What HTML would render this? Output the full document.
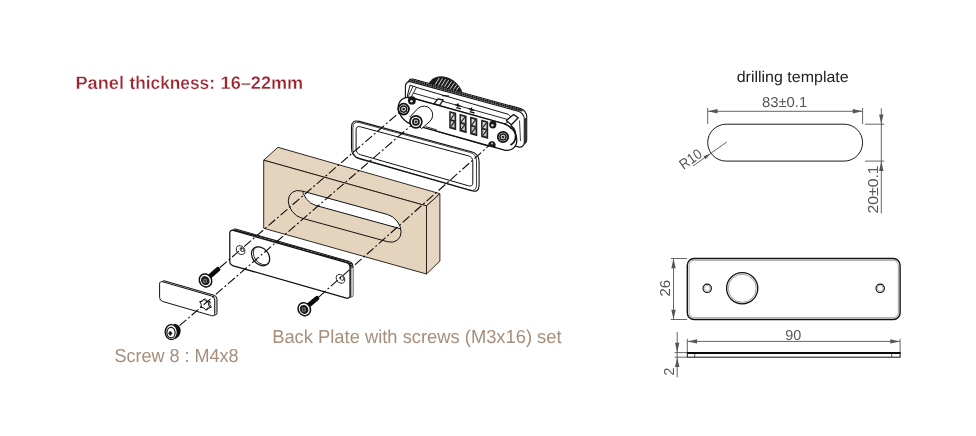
<!DOCTYPE html>
<html>
<head>
<meta charset="utf-8">
<title>Panel thickness</title>
<style>
html,body{margin:0;padding:0;background:#fff;}
body{width:976px;height:436px;overflow:hidden;font-family:"Liberation Sans",sans-serif;}
svg{display:block;position:absolute;left:0;top:0;will-change:transform;}
text{text-rendering:geometricPrecision;}
.t-red{fill:#9b2631;stroke:#fff;stroke-width:0.3px;font-weight:bold;font-family:"Liberation Sans",sans-serif;}
.t-tan{fill:#a68e7c;font-family:"Liberation Sans",sans-serif;}
.t-dim{fill:#555;font-family:"Liberation Sans",sans-serif;}
.t-blk{fill:#222;font-family:"Liberation Sans",sans-serif;}
.ol{fill:none;stroke:#111;stroke-width:1;}
.cl{fill:none;stroke:#0c0c0c;stroke-width:1.1;stroke-dasharray:9 2.5 2 2.5;}
.dim{fill:none;stroke:#555;stroke-width:0.9;}
.arr{fill:#555;stroke:none;}
</style>
</head>
<body>
<svg width="976" height="436" viewBox="0 0 976 436">
<rect width="976" height="436" fill="#fff"/>

<!-- ===== TEXT ===== -->
<text id="t1" class="t-red" y="89.3" font-size="18.2"><tspan x="75.4" textLength="48.6" lengthAdjust="spacingAndGlyphs">Panel</tspan> <tspan x="129.4" textLength="85.6" lengthAdjust="spacingAndGlyphs">thickness:</tspan> <tspan x="220.6" textLength="82.6" lengthAdjust="spacingAndGlyphs">16–22mm</tspan></text>
<text id="t2" class="t-tan" x="114.4" y="362" font-size="18.8" textLength="124.2" lengthAdjust="spacingAndGlyphs">Screw 8 : M4x8</text>
<text id="t3" class="t-tan" x="272.2" y="343.3" font-size="18.8" textLength="289.4" lengthAdjust="spacingAndGlyphs">Back Plate with screws (M3x16) set</text>

<!-- ===== PANEL ===== -->
<g id="panel">
  <polygon points="263.7,160.2 277.9,147.3 439.9,193.7 426.5,205.9" fill="#e5d5bf" stroke="#1a1410" stroke-width="0.9" stroke-linejoin="round"/>
  <polygon points="426.5,205.9 439.9,193.7 439.9,261 426.5,274" fill="#e6d6c1" stroke="#1a1410" stroke-width="0.9" stroke-linejoin="round"/>
  <polygon points="263.7,160.2 426.5,205.9 426.5,274 263.7,228.3" fill="#e4d3bd" stroke="#1a1410" stroke-width="0.9" stroke-linejoin="round"/>
  <!-- slot -->
  <clipPath id="slotclip"><rect x="-13.6" y="-13.6" width="112.8" height="27.2" rx="13.6" transform="matrix(1 0.2745 0 1 301.9 204.6)"/></clipPath>
  <rect x="-13.6" y="-13.6" width="112.8" height="27.2" rx="13.6" transform="matrix(1 0.2745 0 1 301.9 204.6)" fill="#e4d3bd" stroke="none"/>
  <g clip-path="url(#slotclip)">
    <rect x="-13.6" y="-13.6" width="112.8" height="27.2" rx="13.6" transform="matrix(1 0.2745 0 1 315.9 191.9)" fill="#fff" stroke="#111" stroke-width="1" vector-effect="non-scaling-stroke"/>
  </g>
  <rect x="-13.6" y="-13.6" width="112.8" height="27.2" rx="13.6" transform="matrix(1 0.2745 0 1 301.9 204.6)" fill="none" stroke="#111" stroke-width="1" vector-effect="non-scaling-stroke"/>
</g>

<!-- ===== GASKET ===== -->
<g id="gasket">
  <path d="M351.5 127.3Q351.5 119.3 359.2 121.4L471.4 151.7Q479.1 153.8 479.1 161.8L479.1 185.0Q479.1 193.0 471.4 190.8L359.2 158.6Q351.5 156.4 351.5 148.4z" fill="#fff" stroke="#111" stroke-width="1.1"/>
  <path d="M352.9 127.6Q352.9 120.8 359.5 122.6L469.9 152.4Q476.5 154.2 476.5 161.0L476.5 185.1Q476.5 191.9 470.0 190.0L359.4 158.3Q352.9 156.4 352.9 149.6z" fill="none" stroke="#111" stroke-width="0.8"/>
  <path d="M356.1 130.1Q356.1 125.6 360.4 126.8L468.5 155.9Q472.8 157.1 472.8 161.6L472.8 182.5Q472.8 187.0 468.5 185.8L360.4 154.7Q356.1 153.5 356.1 149.0z" fill="#fff" stroke="#111" stroke-width="1"/>
</g>

<!-- ===== BACK PLATE ===== -->
<g id="backplate" transform="translate(0 0.8)">
  <defs>
    <pattern id="hatch" width="2.2" height="2.2" patternUnits="userSpaceOnUse" patternTransform="rotate(55)">
      <rect width="2.2" height="2.2" fill="#8a8a8a"/><rect width="1.3" height="2.2" fill="#111"/>
    </pattern>
    <linearGradient id="edgeg" x1="0" x2="1" y1="0" y2="0"><stop offset="0" stop-color="#777"/><stop offset="1" stop-color="#eee"/></linearGradient>
  </defs>
  <!-- thickness (back copy) -->
  <g transform="matrix(1 0.285 0 1 232.8 227.4)">
    <rect x="0" y="0" width="120.2" height="35.4" rx="3.5" fill="url(#hatch)" stroke="#111" stroke-width="0.9" vector-effect="non-scaling-stroke"/>
  </g>
  <path d="M350.3 266.5L352.9 265.2V294.6L350.3 296.6z" fill="url(#edgeg)" stroke="none"/>
  <g transform="matrix(1 0.285 0 1 229.8 228.6)">
    <rect x="0" y="0" width="120.2" height="35.4" rx="3.5" fill="#fff" stroke="#111" stroke-width="1.25" vector-effect="non-scaling-stroke"/>
  </g>
  <!-- big hole -->
  <clipPath id="bhclip"><circle r="9.1" transform="matrix(1 0.285 0 1 260.6 255.5)"/></clipPath>
  <circle r="9.1" transform="matrix(1 0.285 0 1 260.6 255.5)" fill="#fff" stroke="#111" stroke-width="1.2" vector-effect="non-scaling-stroke"/>
  <g clip-path="url(#bhclip)"><circle r="9.1" transform="matrix(1 0.285 0 1 262.4 254.6)" fill="none" stroke="#111" stroke-width="0.9" vector-effect="non-scaling-stroke"/></g>
  <!-- small holes -->
  <circle r="4.3" transform="matrix(1 0.285 0 1 240.6 249.3)" fill="#fff" stroke="#111" stroke-width="0.9" vector-effect="non-scaling-stroke"/>
  <circle r="1.9" transform="matrix(1 0.285 0 1 242 248.8)" fill="#fff" stroke="#111" stroke-width="0.8" vector-effect="non-scaling-stroke"/>
  <circle r="4.3" transform="matrix(1 0.285 0 1 340.5 278)" fill="#fff" stroke="#111" stroke-width="0.9" vector-effect="non-scaling-stroke"/>
  <circle r="1.9" transform="matrix(1 0.285 0 1 341.9 277.6)" fill="#fff" stroke="#111" stroke-width="0.8" vector-effect="non-scaling-stroke"/>
</g>

<!-- ===== SMALL PLATE ===== -->
<g id="smallplate">
  <g transform="matrix(1 0.29 0 1 161.9 280.1)">
    <rect x="0" y="0" width="55.1" height="19.7" rx="3.2" fill="#ddd" stroke="#111" stroke-width="1" vector-effect="non-scaling-stroke"/>
  </g>
  <g transform="matrix(1 0.29 0 1 159.6 280.9)">
    <rect x="0" y="0" width="55.1" height="19.7" rx="3.2" fill="#fff" stroke="#111" stroke-width="1" vector-effect="non-scaling-stroke"/>
  </g>
  <!-- star hole -->
  <path d="M211.4 307.3L208.7 307.6L207.4 309.8L205.1 307.4L202.2 306.7L202.6 304.0L201.0 301.1L203.7 300.8L205.0 298.6L207.3 301.0L210.2 301.7L209.8 304.4z" fill="#fff" stroke="#111" stroke-width="0.9" stroke-linejoin="round"/>
  <path d="M210.1 307.8L207.4 308.1L206.1 310.3L203.8 307.9L200.9 307.2L201.3 304.5L199.7 301.6L202.4 301.3L203.7 299.1L206.0 301.5L208.9 302.2L208.5 304.9z" fill="#fff" stroke="#111" stroke-width="1" stroke-linejoin="round"/>
</g>

<!-- ===== SCREWS ===== -->
<g id="screws">
  <!-- upper-left M3x16 -->
  <path d="M208.5 277.6L218 269.2" stroke="#0a0a0a" stroke-width="4.7" stroke-linecap="round" fill="none"/>
  <ellipse cx="205.5" cy="280.4" rx="6" ry="6.7" fill="#fff" stroke="#111" stroke-width="1.5" transform="rotate(-35 205.5 280.4)"/>
  <ellipse cx="205.3" cy="280.6" rx="4.1" ry="4.7" fill="#1c1c1c" transform="rotate(-35 205.3 280.6)"/>
  <circle cx="205" cy="280.9" r="2.1" fill="#9a9a9a"/>
  <path d="M203.5 280.9h3M205 279.4v3" stroke="#111" stroke-width="0.9"/>
  <!-- right M3x16 -->
  <path d="M307.3 306.4L317 298.3" stroke="#0a0a0a" stroke-width="4.7" stroke-linecap="round" fill="none"/>
  <ellipse cx="304.3" cy="309.2" rx="6" ry="6.7" fill="#fff" stroke="#111" stroke-width="1.5" transform="rotate(-35 304.3 309.2)"/>
  <ellipse cx="304.1" cy="309.4" rx="4.1" ry="4.7" fill="#1c1c1c" transform="rotate(-35 304.1 309.4)"/>
  <circle cx="303.8" cy="309.7" r="2.1" fill="#9a9a9a"/>
  <path d="M302.3 309.7h3M303.8 308.2v3" stroke="#111" stroke-width="0.9"/>
  <!-- screw 8 : M4x8 -->
  <path d="M174 323.8C178.5 324 181 327.5 180.6 331.5C180.2 335.5 177.5 338.8 174 339z" fill="#111"/>
  <ellipse cx="171.3" cy="332.1" rx="6.1" ry="7.5" fill="#fff" stroke="#111" stroke-width="1.4"/>
  <ellipse cx="171" cy="332.6" rx="4.1" ry="5.3" fill="#fff" stroke="#111" stroke-width="1.2"/>
  <path d="M168.4 333.4h3.9M170.3 331.3v4.2" stroke="#111" stroke-width="1.9"/>
</g>

<!-- ===== LOCK ===== -->
<g id="lock">
  <!-- knob behind flange -->
  <clipPath id="knobclip"><path d="M428.6 84.2C431 79 436 76.6 441.6 76.8C449.5 77.2 457.5 82 461.4 90.6L461.2 93.2z"/></clipPath>
  <path d="M428.6 84.2C431 79 436 76.6 441.6 76.8C449.5 77.2 457.5 82 461.4 90.6L461.2 93.2z" fill="#1c1c1c" stroke="#111" stroke-width="0.8"/>
  <g clip-path="url(#knobclip)" stroke="#e8e8e8" stroke-width="0.9" fill="none">
    <path d="M434.6 85.6l4.6 -7.6M437.6 86.6l4.9 -8.2M440.6 87.4l5 -8.2M443.6 88.2l5 -8M446.6 89l5 -7.6M449.6 89.8l4.8 -7M452.6 90.6l4.4 -6.2M455.6 91.4l3.6 -5"/>
  </g>
  <!-- flange back copy (thickness) -->
  <g transform="matrix(1 0.275 0 1 407.8 77.6)">
    <rect x="0" y="0" width="118.9" height="35.6" rx="6" fill="#fff" stroke="#111" stroke-width="1.1" vector-effect="non-scaling-stroke"/>
  </g>
  <!-- knurl texture between the two top lines -->
  <path d="M409.5 79.6L522.6 110.7" stroke="#5a5a5a" stroke-width="2" fill="none"/>
  <path d="M409.5 79.6L522.6 110.7" stroke="#111" stroke-width="1.9" stroke-dasharray="1.3 1" fill="none"/>
  <path d="M525.6 118V143" stroke="#222" stroke-width="1" fill="none"/>
  <!-- flange front copy -->
  <g transform="matrix(1 0.275 0 1 405.4 80.2)">
    <rect x="0" y="0" width="118.9" height="35.6" rx="6" fill="#fff" stroke="#111" stroke-width="1.1" vector-effect="non-scaling-stroke"/>
  </g>
  <!-- body top surface -->
  <path d="M407.2 96.6L410 85.2L419.4 88.3L508.5 114.4L512.5 118.5L505 124L416.6 99z" fill="#fff" stroke="#111" stroke-width="1" stroke-linejoin="round"/>
  <path d="M416.4 87.4L411.3 97" stroke="#111" stroke-width="0.9" fill="none"/>
  <path d="M413 86.3L408.6 95.8" stroke="#111" stroke-width="0.9" fill="none"/>
  <!-- body front face -->
  <g transform="matrix(1 0.278 0 1 411.4 111)">
    <rect x="-13.1" y="-13.1" width="118.5" height="26.2" rx="13.1" fill="#fff" stroke="#111" stroke-width="1.3" vector-effect="non-scaling-stroke"/>
  </g>
  <!-- second line under top-front edge -->
  <path d="M413.5 93.1L507 119.3" stroke="#111" stroke-width="0.9" fill="none"/>
  <!-- right-end chamfer tab -->
  <path d="M506.3 120.6L513.6 114.4L518.2 117.8L511.4 124.8z" fill="#fff" stroke="#111" stroke-width="1.3" stroke-linejoin="round"/>
  <path d="M510.6 125.4C514.4 128.4 516.3 133 515.4 138.6C514.6 142 512.6 144 510.4 145" stroke="#111" stroke-width="1.7" fill="none"/>
  <path d="M503.4 123.4C507 124.4 509.6 126.6 511.2 129.4" stroke="#111" stroke-width="0.9" fill="none"/>
  <path d="M519.5 120.5L520.5 141" stroke="#111" stroke-width="0.8" fill="none"/>
  <!-- indicator bar -->
  <path d="M434 103.6L438 98.8L443.2 100L439.5 105.3z" fill="#fff" stroke="#111" stroke-width="1.3" stroke-linejoin="round"/>
  <path d="M442.4 95.6l6.4 0.4" stroke-linecap="round" stroke="#111" stroke-width="1.1" fill="none"/>
  <!-- arrow marks -->
  <path d="M455.3 104.6l5.4 1.6M458.2 103.4l-0.6 3.4M456.3 107.6l4.6 1.3" stroke="#111" stroke-width="1.3" fill="none"/>
  <path d="M468.8 108.7l5.4 1.6M471.7 107.5l-0.6 3.4M469.8 111.7l4.6 1.3" stroke="#111" stroke-width="1.3" fill="none"/>
  <!-- dial windows -->
  <g id="wins">
    <g transform="matrix(1 0.28 0 1 449.2 110.9)"><rect width="7" height="17.4" fill="#222"/><rect x="1.5" y="1.8" width="3.8" height="6" fill="#d8d8d8"/><rect x="1.5" y="9.6" width="3.8" height="5.8" fill="#c4c4c4"/><path d="M1.5 7.8L5.3 1.8M1.5 15.4L5.3 9.6" stroke="#222" stroke-width="1"/></g>
    <g transform="matrix(1 0.28 0 1 459.5 113.8)"><rect width="7.1" height="17.4" fill="#222"/><rect x="1.5" y="1.8" width="3.9" height="6" fill="#d8d8d8"/><rect x="1.5" y="9.6" width="3.9" height="5.8" fill="#c4c4c4"/><path d="M1.5 7.8L5.4 1.8M1.5 15.4L5.4 9.6" stroke="#222" stroke-width="1"/></g>
    <g transform="matrix(1 0.28 0 1 470.1 116.6)"><rect width="7.2" height="17.6" fill="#222"/><rect x="1.5" y="1.8" width="4" height="6" fill="#d8d8d8"/><rect x="1.5" y="9.6" width="4" height="6" fill="#c4c4c4"/><path d="M1.5 7.8L5.5 1.8M1.5 15.6L5.5 9.6" stroke="#222" stroke-width="1"/></g>
    <g transform="matrix(1 0.28 0 1 481.1 119.5)"><rect width="7.1" height="17.6" fill="#222"/><rect x="1.5" y="1.8" width="3.9" height="6" fill="#d8d8d8"/><rect x="1.5" y="9.6" width="3.9" height="6" fill="#c4c4c4"/><path d="M1.5 7.8L5.4 1.8M1.5 15.6L5.4 9.6" stroke="#222" stroke-width="1"/></g>
  </g>
  <!-- small dark holes -->
  <ellipse cx="411.9" cy="100.4" rx="3.9" ry="4.2" fill="#161616"/><circle cx="411.5" cy="101.2" r="1.3" fill="#ddd"/>
  <ellipse cx="492.8" cy="124.6" rx="3.6" ry="3.9" fill="#161616"/><circle cx="492.4" cy="125.3" r="1.2" fill="#ddd"/>
  <!-- lower small screw -->
  <path d="M488.8 145.6a3.2 3.2 0 0 1 6.4 -1.6l-0.2 3.2z" fill="#1a1a1a" stroke="#111" stroke-width="0.8"/>
  <circle cx="492" cy="143.4" r="1" fill="#ccc"/>
  <!-- left screw -->
  <circle cx="403.6" cy="109.1" r="5.4" fill="#fff" stroke="#111" stroke-width="1.8"/>
  <circle cx="403.6" cy="109.1" r="3.1" fill="none" stroke="#1a1a1a" stroke-width="1.5"/>
  <circle cx="403.6" cy="109.1" r="1.5" fill="#333"/>
  <!-- right screw -->
  <circle cx="503" cy="137" r="5.2" fill="#fff" stroke="#111" stroke-width="1.8"/>
  <circle cx="503" cy="137" r="3" fill="none" stroke="#1a1a1a" stroke-width="1.5"/>
  <circle cx="503" cy="137" r="1.5" fill="#333"/>
  <!-- cylinder boss -->
  <path d="M410.2 116.6L418.2 108.2A8.6 8.6 0 1 1 429.6 121.6L421.6 128.6z" fill="#fff" stroke="#111" stroke-width="1" stroke-linejoin="round"/>
  <circle cx="415.9" cy="121.8" r="6" fill="#fff" stroke="#111" stroke-width="1.7"/>
  <circle cx="415.9" cy="121.8" r="3.9" fill="#151515"/>
  <circle cx="415.9" cy="121.8" r="2.2" fill="#bbb"/>
  <circle cx="415.9" cy="121.8" r="1.1" fill="#222"/>
  <!-- bottom step lines -->
  <path d="M425.6 126.6L436.4 129.8V131.2L489 146.4" stroke="#111" stroke-width="0.9" fill="none"/>
</g>

<!-- ===== CENTRE LINES ===== -->
<g id="centerlines">
  <path class="cl" d="M179.5 325.7L412 124.8"/>
  <path class="cl" d="M220 267.5L400 111.9"/>
  <path class="cl" d="M319 296.8L489.5 145.2"/>
</g>

<!-- ===== DIMENSION DRAWINGS (right) ===== -->
<g id="dims">
  <text id="t4" class="t-blk" x="736.7" y="82.3" font-size="15.5" textLength="112" lengthAdjust="spacingAndGlyphs">drilling template</text>
  <text id="t5" class="t-dim" x="761.9" y="106.6" font-size="14.4" textLength="45.4" lengthAdjust="spacingAndGlyphs">83±0.1</text>
  <!-- slot -->
  <rect x="707.7" y="124.2" width="154.9" height="36.9" rx="18.45" fill="#fff" stroke="#1a1a1a" stroke-width="1"/>
  <!-- 83 dim -->
  <path class="dim" d="M707.7 107.9V124 M862.6 107.9V124 M708 111.3H862.3"/>
  <path class="arr" d="M707.9 111.3l9.6 -2.2v4.4z M862.4 111.3l-9.6 -2.2v4.4z"/>
  <!-- 20 dim -->
  <path class="dim" d="M865 124.2H884.3 M865 161.1H884.3 M881.3 108.3V213.5"/>
  <path class="arr" d="M881.3 124l-2.2 -9.6h4.4z M881.3 161.3l-2.2 9.6h4.4z"/>
  <text id="t6" class="t-dim" font-size="14.4" transform="translate(878.4 213.6) rotate(-90)" textLength="48.2" lengthAdjust="spacingAndGlyphs">20±0.1</text>
  <!-- R10 -->
  <path class="dim" d="M692.9 166.1L726.8 142"/>
  <path class="arr" d="M710.4 153.7l-6.9 2.6l2.1 2.9z"/>
  <text id="t7" class="t-dim" font-size="14.4" transform="translate(683.6 169.9) rotate(-35)" textLength="24" lengthAdjust="spacingAndGlyphs">R10</text>

  <!-- plate front view -->
  <rect x="687.3" y="258.5" width="212.8" height="61" rx="6.8" fill="#fff" stroke="#111" stroke-width="1.4"/>
  <rect x="689.1" y="260.3" width="209.2" height="57.4" rx="5.2" fill="none" stroke="#777" stroke-width="0.7"/>
  <circle cx="707.2" cy="288.3" r="4.2" fill="#fff" stroke="#111" stroke-width="1.2"/>
  <circle cx="707.2" cy="288.3" r="2.9" fill="none" stroke="#888" stroke-width="0.6"/>
  <circle cx="880.2" cy="288.3" r="4.2" fill="#fff" stroke="#111" stroke-width="1.2"/>
  <circle cx="880.2" cy="288.3" r="2.9" fill="none" stroke="#888" stroke-width="0.6"/>
  <circle cx="742.2" cy="288.3" r="15.6" fill="#fff" stroke="#111" stroke-width="1.3"/>
  <circle cx="742.2" cy="288.3" r="14" fill="none" stroke="#777" stroke-width="0.7"/>
  <!-- 26 dim -->
  <path class="dim" d="M670.8 258.5H687 M670.8 319.5H687 M673.5 258.8V319.2"/>
  <path class="arr" d="M673.5 258.6l-2.2 9.6h4.4z M673.5 319.4l-2.2 -9.6h4.4z"/>
  <text id="t8" class="t-dim" font-size="14.4" transform="translate(670.4 296.6) rotate(-90)" textLength="16.6" lengthAdjust="spacingAndGlyphs">26</text>
  <!-- 90 dim -->
  <path class="dim" d="M687.3 338.8V353 M900.1 338.8V353 M687.6 341.4H899.8"/>
  <path class="arr" d="M687.5 341.4l9.6 -2.2v4.4z M899.9 341.4l-9.6 -2.2v4.4z"/>
  <text id="t9" class="t-dim" x="785.2" y="339.8" font-size="14.4" textLength="16" lengthAdjust="spacingAndGlyphs">90</text>
  <!-- plate side view -->
  <rect x="687.3" y="353" width="212.8" height="4.2" fill="#fff" stroke="#111" stroke-width="1"/>
  <path d="M687 353H900.4" stroke="#0a0a0a" stroke-width="1.8" fill="none"/>
  <path d="M694.7 353.2V357 M891.7 353.2V357" stroke="#111" stroke-width="0.7" fill="none"/>
  <!-- 2 dim -->
  <path class="dim" d="M674.6 352.6H687 M674.6 357.2H687 M677.2 331.8V377.4"/>
  <path class="arr" d="M677.2 352.4l-2.2 -9.6h4.4z M677.2 357.4l-2.2 9.6h4.4z"/>
  <text id="t10" class="t-dim" font-size="14.4" transform="translate(674.3 375.6) rotate(-90)" textLength="8" lengthAdjust="spacingAndGlyphs">2</text>
</g>
</svg>
</body>
</html>
